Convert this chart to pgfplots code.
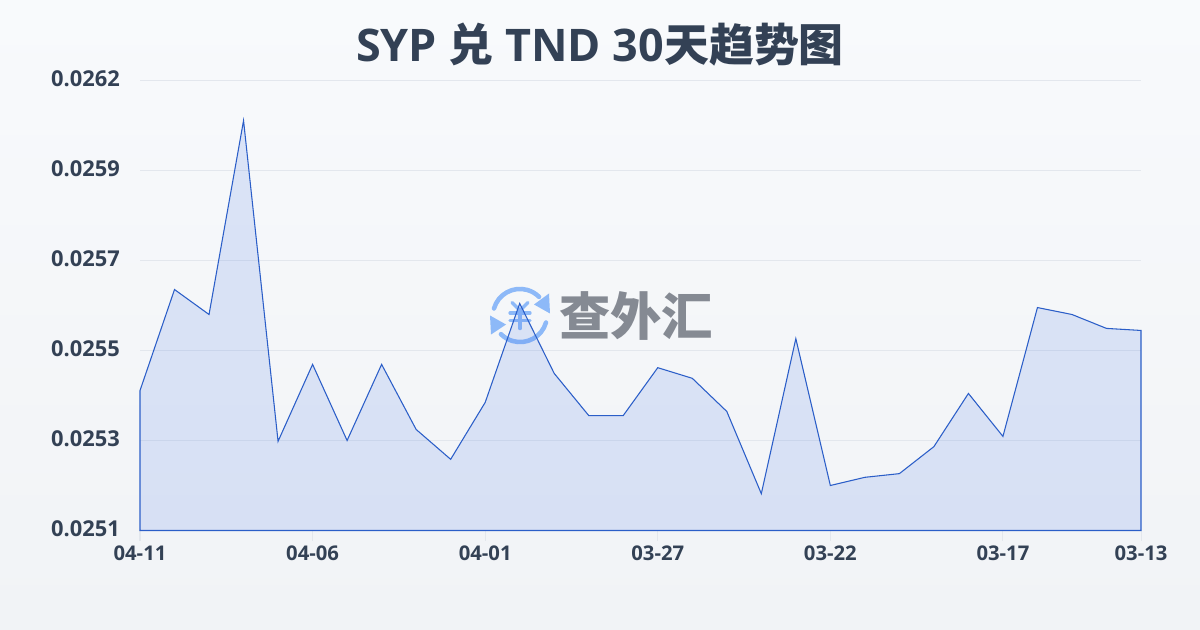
\documentclass[border=0pt]{standalone}
\usepackage{fontspec}
\usepackage{pgfplots}
\usepackage{pgfplotstable}
\pgfplotsset{compat=1.18}
\setmainfont{Open Sans}
\newfontfamily\cjk{Noto Sans CJK SC}
\definecolor{bgtop}{HTML}{F8FAFC}
\definecolor{bgbot}{HTML}{F1F3F6}
\definecolor{ink}{HTML}{334155}
\definecolor{gridc}{HTML}{E3E7ED}
\definecolor{linec}{HTML}{2B5EC8}
\definecolor{areac}{HTML}{3F70E4}
\definecolor{logoc}{HTML}{8DB9F8}
\definecolor{wmgrey}{HTML}{858A93}

% 1 px of the reference = 0.75pt
\pgfplotstableread{
idx rate
0  0.025442
1  0.025689
2  0.025628
3  0.026102
4  0.025318
5  0.025506
6  0.025320
7  0.025506
8  0.025347
9  0.025274
10 0.025413
11 0.025655
12 0.025484
13 0.025381
14 0.025381
15 0.025498
16 0.025472
17 0.025391
18 0.025190
19 0.025569
20 0.025210
21 0.025230
22 0.025239
23 0.025305
24 0.025435
25 0.025330
26 0.025645
27 0.025628
28 0.025594
29 0.025589
}\ratedata

\begin{document}
\begin{tikzpicture}
\begin{scope}[x=0.75pt,y=-0.75pt]
\path[use as bounding box] (0,0) rectangle (1200,630);
\shade[top color=bgtop,bottom color=bgbot] (0,0) rectangle (1200,630);

\node[text=ink,font=\fontsize{33.7}{36}\selectfont\bfseries] at (600,45) {SYP {\cjk 兑} TND 30{\cjk 天趋势图}};

% watermark
\begin{scope}[shift={(520,315.5)},line width=3.4pt,draw=logoc,line cap=round]
\draw (-26,-7) arc[start angle=196,end angle=315,radius=27];
\fill[logoc] (29,-22) -- (30,-2) -- (14,-11) -- cycle;
\draw (26,7) arc[start angle=16,end angle=135,radius=27];
\fill[logoc] (-30,0) -- (-29,19) -- (-14,9) -- cycle;
\draw[line width=2.6pt] (-8,-13) -- (0,-5) -- (8,-13);
\draw[line width=2.4pt] (-10,-2.5) -- (10,-2.5);
\draw[line width=2.4pt] (-10,5) -- (10,5);
\draw[line width=2.6pt] (0,-5) -- (0,13);
\end{scope}
\node[text=wmgrey,font=\fontsize{38.5}{40}\selectfont\bfseries\cjk,inner sep=0pt] at (636,316) {查外汇};
\coordinate (origin) at (140,530.5);
\end{scope}

\begin{axis}[
  at={(origin)},anchor=south west,
  scale only axis,width=750.75pt,height=337.5pt,
  xmin=0,xmax=29,ymin=0.0251,ymax=0.0262,
  scaled y ticks=false,
  axis line style={draw=none},
  clip=false,
  ymajorgrids,
  grid style={gridc,line width=0.75pt},
  ytick={0.0251,0.02532,0.02554,0.02576,0.02598,0.0262},
  yticklabels={0.0251,0.0253,0.0255,0.0257,0.0259,0.0262},
  xtick={0,5,10,15,20,25,29},
  xticklabels={04-11,04-06,04-01,03-27,03-22,03-17,03-13},
  xtick pos=bottom,ytick pos=left,
  tick align=outside,
  major tick length=7.5pt,
  ytick style={draw=none},
  xtick style={gridc,line width=0.75pt},
  yticklabel style={text=ink,font=\fontsize{16.4}{18}\selectfont\bfseries,/pgf/number format/assume math mode=true,inner xsep=0pt,xshift=-7.5pt,yshift=1.5pt},
  xticklabel style={text=ink,font=\fontsize{15.2}{18}\selectfont\bfseries,/pgf/number format/assume math mode=true,inner ysep=0pt,yshift=-3.5pt},
]
\addplot[draw=linec,line width=0.8pt,fill=areac,fill opacity=0.15] table[x=idx,y=rate] {\ratedata} \closedcycle;
\end{axis}
\end{tikzpicture}
\end{document}
